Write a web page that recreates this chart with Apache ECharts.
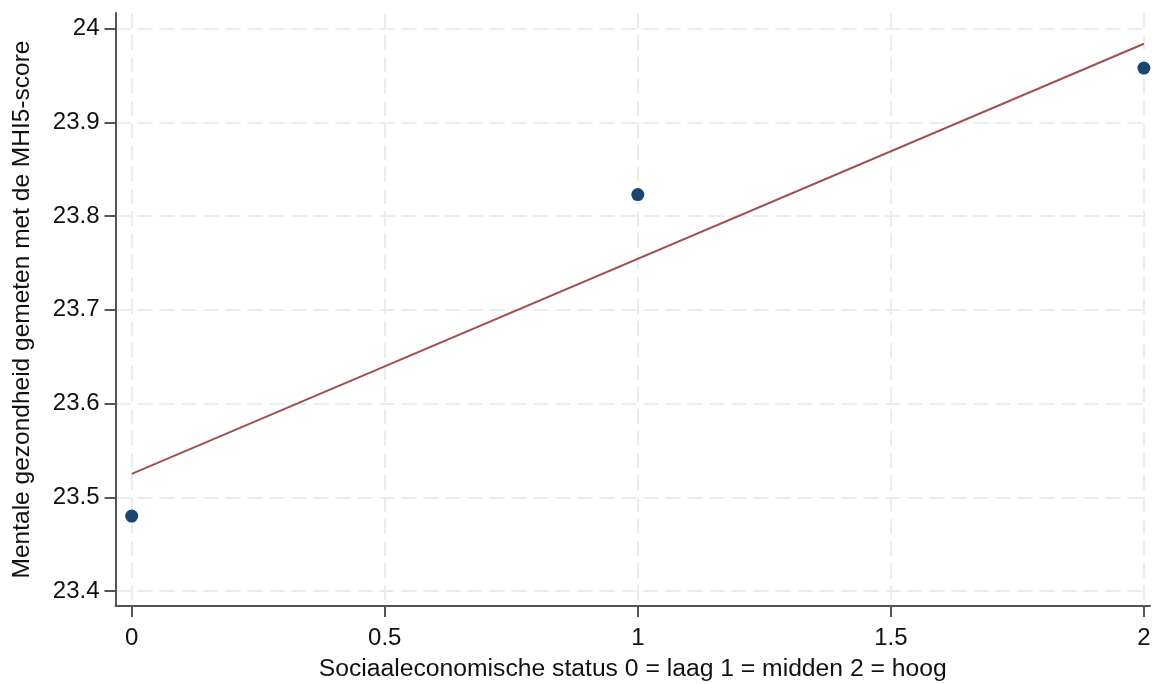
<!DOCTYPE html>
<html>
<head>
<meta charset="utf-8">
<script src="https://cdn.jsdelivr.net/npm/echarts@6/dist/echarts.min.js"></script>
<style>html,body{margin:0;padding:0;background:#fff}#c{width:1152px;height:684px}</style>
</head>
<body>
<div id="c"></div>
<script>
// Data
const sesValues = [0, 1, 2];
const mhi5Means = [23.480, 23.823, 23.958];
const fitX = [0, 2];
const fitY = [23.525, 23.984];
const xTicks = [0, 0.5, 1, 1.5, 2];
const yTicks = [23.4, 23.5, 23.6, 23.7, 23.8, 23.9, 24];
const xTitle = 'Sociaaleconomische status 0 = laag 1 = midden 2 = hoog';
const yTitle = 'Mentale gezondheid gemeten met de MHI5-score';

const font = '"Liberation Sans", Arial, sans-serif';
const chart = echarts.init(document.getElementById('c'), null, {renderer: 'canvas'});
const gridLine = {show: true, lineStyle: {color: '#ececec', width: 2, type: [15, 7]}};
chart.setOption({
  animation: false,
  backgroundColor: '#ffffff',
  grid: {left: 115.5, top: 13, right: 2, bottom: 78, containLabel: false, outerBoundsMode: 'none'},
  xAxis: {
    type: 'value', min: -0.032, max: 2.012, interval: 0.5,
    name: xTitle, nameLocation: 'middle', nameGap: 51,
    nameTextStyle: {fontFamily: font, fontSize: 24.7, color: '#111'},
    axisLine: {show: true, onZero: false, lineStyle: {color: '#555', width: 2}},
    axisTick: {show: true, length: 11, lineStyle: {color: '#555', width: 2},
      customValues: xTicks},
    axisLabel: {fontFamily: font, fontSize: 24, color: '#111', margin: 20,
      customValues: xTicks, formatter: v => String(v)},
    splitLine: gridLine
  },
  yAxis: {
    type: 'value', min: 23.384, max: 24.0168, interval: 0.1,
    name: yTitle, nameLocation: 'middle', nameGap: 81,
    nameTextStyle: {fontFamily: font, fontSize: 24.5, color: '#111'},
    axisLine: {show: true, onZero: false, lineStyle: {color: '#555', width: 2}},
    axisTick: {show: true, length: 11, lineStyle: {color: '#555', width: 2},
      customValues: yTicks},
    axisLabel: {fontFamily: font, fontSize: 24, color: '#111', margin: 16,
      customValues: yTicks, formatter: v => String(+v.toFixed(1))},
    splitLine: gridLine
  },
  series: [
    {
      type: 'line',
      data: fitX.map((x, i) => [x, fitY[i]]),
      symbol: 'none',
      lineStyle: {color: '#a0504f', width: 2},
      z: 2
    },
    {
      type: 'scatter',
      data: sesValues.map((x, i) => [x, mhi5Means[i]]),
      symbol: 'circle', symbolSize: 13,
      itemStyle: {color: '#1a476f', opacity: 1},
      z: 3
    }
  ]
});
</script>
</body>
</html>
